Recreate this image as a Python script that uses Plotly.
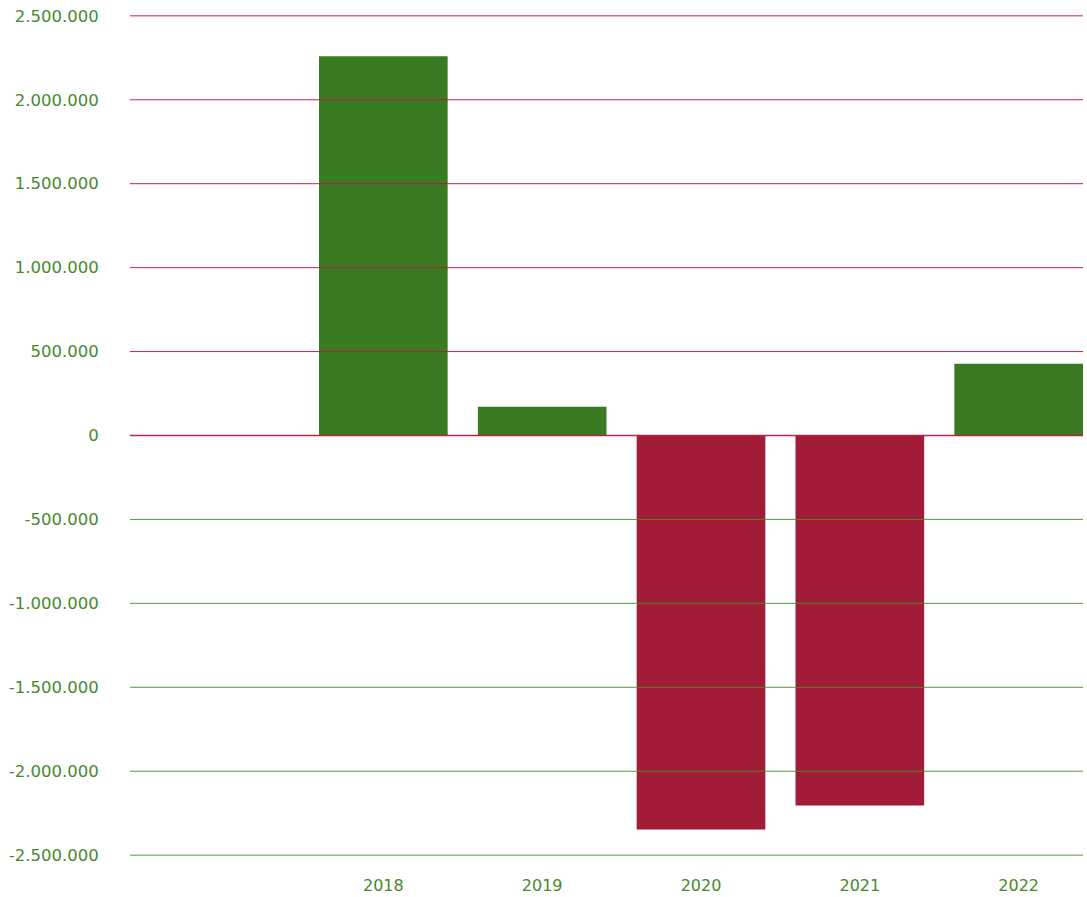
import plotly.graph_objects as go

years = ["2018", "2019", "2020", "2021", "2022"]
values = [2259000, 172000, -2347000, -2204000, 428000]
y_ticks = [-2500000, -2000000, -1500000, -1000000, -500000, 0,
           500000, 1000000, 1500000, 2000000, 2500000]
y_ticktext = [("-" if t < 0 else "") + f"{abs(t):,}".replace(",", ".") for t in y_ticks]

GREEN = "#3a7a23"
RED = "#a31c37"
bar_colors = [GREEN if v >= 0 else RED for v in values]

fig = go.Figure(go.Bar(x=years, y=values, marker=dict(color=bar_colors, line=dict(width=0)),
                       hoverinfo="skip"))

shapes = []
for t in y_ticks:
    col = "rgba(185,25,60,0.95)" if t >= 0 else "rgba(75,140,45,0.9)"
    shapes.append(dict(type="line", xref="paper", x0=0, x1=1, yref="y", y0=t, y1=t,
                       line=dict(color=col, width=1.3 if t == 0 else 1), layer="above"))

fig.update_layout(
    width=1087, height=897,
    margin=dict(l=130, r=4, t=15, b=41, autoexpand=False),
    paper_bgcolor="white", plot_bgcolor="white",
    bargap=0.19,
    showlegend=False,
    shapes=shapes,
    font=dict(family="DejaVu Sans", size=16, color="#458a2c"),
    xaxis=dict(type="category", range=[-1.595, 4.405], showgrid=False, showline=False,
               zeroline=False, ticks="outside", ticklen=15, tickcolor="rgba(0,0,0,0)",
               automargin=False, tickfont=dict(size=16)),
    yaxis=dict(range=[-2505000, 2505000], tickvals=y_ticks, ticktext=y_ticktext,
               showgrid=False, zeroline=False, showline=False,
               ticks="outside", ticklen=27, tickcolor="rgba(0,0,0,0)",
               automargin=False, tickfont=dict(size=16.5)),
)

fig.write_html("out.html", config={"displayModeBar": False},
               post_script="document.body.style.margin='0';document.body.style.overflow='hidden';")
